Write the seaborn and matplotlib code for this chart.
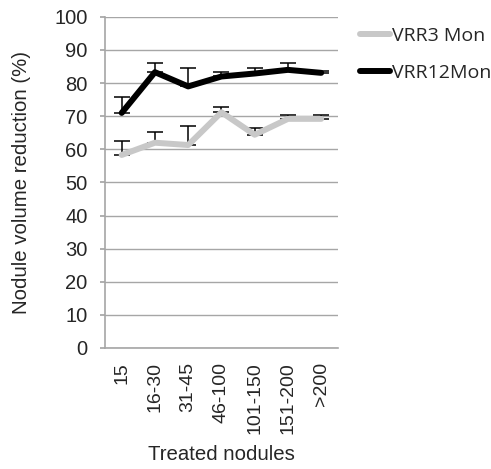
import matplotlib
matplotlib.use("Agg")
import matplotlib.pyplot as plt
import seaborn as sns
import pandas as pd
import numpy as np
from matplotlib.lines import Line2D

categories = ["15", "16-30", "31-45", "46-100", "101-150", "151-200", ">200"]
vrr3 = [58.3, 62.0, 61.3, 71.2, 64.4, 69.2, 69.2]
vrr3_err = [4.3, 3.3, 5.7, 1.7, 2.0, 1.2, 1.2]
vrr12 = [71.0, 83.3, 79.0, 82.0, 82.9, 84.0, 83.1]
vrr12_err = [4.8, 2.9, 5.7, 1.5, 1.7, 2.2, 0.5]
series_names = ["VRR3 Mon", "VRR12Mon"]

sns.set_theme(style="white")
plt.rcParams['font.family'] = ['Liberation Sans', 'DejaVu Sans']

df = pd.DataFrame({
    "cat": categories * 2,
    "val": vrr3 + vrr12,
    "series": [series_names[0]] * 7 + [series_names[1]] * 7,
})

fig = plt.figure(figsize=(4.91, 4.69), dpi=100)
ax = fig.add_axes([0.214, 0.258, 0.474, 0.706])

x = np.arange(len(categories))
# error bars (upper only)
ax.errorbar(x, vrr3, yerr=[np.zeros(7), vrr3_err], fmt="none", ecolor="black",
            elinewidth=1.1, capsize=6, capthick=1.1, zorder=2)
ax.errorbar(x, vrr12, yerr=[np.zeros(7), vrr12_err], fmt="none", ecolor="black",
            elinewidth=1.1, capsize=6, capthick=1.1, zorder=2)

sns.lineplot(data=df, x="cat", y="val", hue="series", sort=False,
             palette={series_names[0]: "#c8c8c8", series_names[1]: "#000000"},
             linewidth=4.3, ax=ax, legend=False, zorder=3)

ax.set_xlim(-0.5, 6.5)
ax.set_ylim(0, 100)
ax.set_yticks(range(0, 101, 10))
ax.yaxis.grid(True, color="#a6a6a6", linewidth=1.0)
ax.set_axisbelow(True)

ax.set_xticks(x)
ax.set_xticklabels(categories, rotation=90, fontsize=14)
ax.set_xticks(np.arange(-0.5, 7, 1), minor=True)
ax.tick_params(axis="x", which="major", length=0, pad=10)
ax.tick_params(axis="x", which="minor", length=3.6, color="#a6a6a6", direction="out")
ax.tick_params(axis="y", length=3.6, color="#a6a6a6", direction="out", labelsize=14.5, pad=9)
ax.tick_params(bottom=True, left=True)

for s in ["top", "right"]:
    ax.spines[s].set_visible(False)
for s in ["left", "bottom"]:
    ax.spines[s].set_color("#a6a6a6")
    ax.spines[s].set_linewidth(1.2)

ax.set_xlabel("Treated nodules", fontsize=14.7, labelpad=8)
ax.set_ylabel("Nodule volume reduction (%)", fontsize=14.7, labelpad=17)

handles = [Line2D([0], [0], color="#c8c8c8", lw=4.3),
           Line2D([0], [0], color="#000000", lw=4.3)]
fig.legend(handles, series_names, loc="upper left", bbox_to_anchor=(360 / 491, 0.942),
           frameon=False, handlelength=1.55, handletextpad=0.1,
           labelspacing=0.95, borderpad=0, borderaxespad=0,
           prop={"family": ["Open Sans", "DejaVu Sans"], "size": 14})

fig.savefig("out.png", dpi=100)
